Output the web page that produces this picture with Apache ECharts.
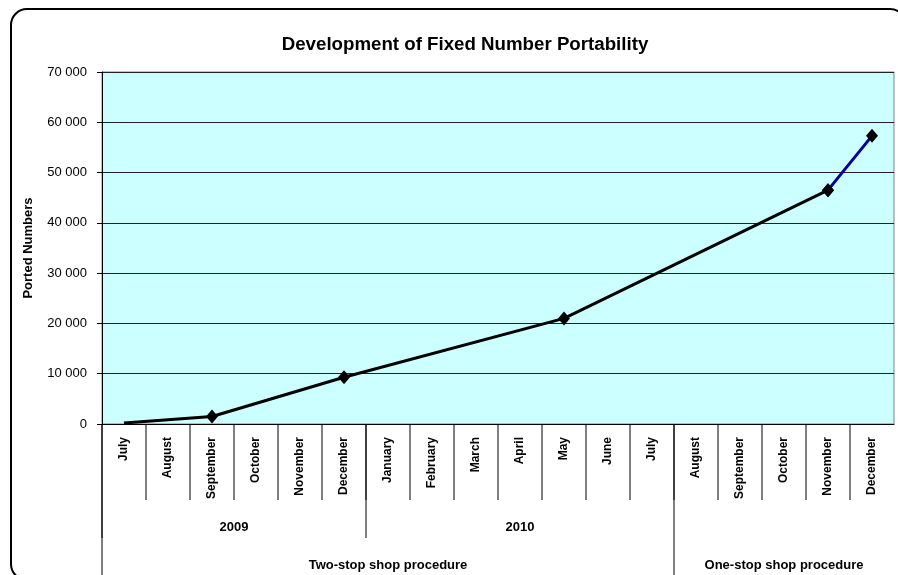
<!DOCTYPE html>
<html>
<head>
<meta charset="utf-8">
<script src="https://cdn.jsdelivr.net/npm/echarts@6/dist/echarts.min.js"></script>
<style>
  html, body { margin: 0; padding: 0; background: #fff; }
  #chart { width: 898px; height: 575px; }
</style>
</head>
<body>
<div id="chart"></div>
<script>
// Month categories, July 2009 – December 2010
const months = ['July', 'August', 'September', 'October', 'November', 'December',
  'January', 'February', 'March', 'April', 'May', 'June', 'July',
  'August', 'September', 'October', 'November', 'December'];

// Ported numbers (cumulative); null = no reading for that month
//                  Jul  Aug   Sep   Oct   Nov   Dec   Jan   Feb   Mar   Apr   May    Jun   Jul   Aug   Sep   Oct   Nov    Dec
const portedTwoStop = [200, null, 1500, null, null, 9300, null, null, null, null, 21000, null, null, null, null, null, 46500, null];
const portedOneStop = [null, null, null, null, null, null, null, null, null, null, null, null, null, null, null, null, 46500, 57300];

// Grouping rows under the month labels: [label, first month index, last month index]
const yearGroups = [['2009', 0, 5], ['2010', 6, 12]];
const procedureGroups = [['Two-stop shop procedure', 0, 12], ['One-stop shop procedure', 13, 17]];

const FONT = '"Liberation Sans", Arial, sans-serif';

// Rows for the custom series: level 0 = month separators, 1 = years, 2 = procedures
const groupRows = [];
for (let i = 1; i < months.length; i++) groupRows.push({ name: '', value: [i, i, 0] });
yearGroups.forEach(g => groupRows.push({ name: g[0], value: [g[1], g[2], 1] }));
procedureGroups.forEach(g => groupRows.push({ name: g[0], value: [g[1], g[2], 2] }));

const lineLen = [76, 114, 170];
const textOffset = [0, 103, 141];

function renderGroup(params, api) {
  const start = api.value(0), end = api.value(1), level = api.value(2);
  const band = api.size([1, 0])[0];
  const p0 = api.coord([start, 0]);
  const p1 = api.coord([end, 0]);
  const x0 = p0[0] - band / 2;
  const x1 = p1[0] + band / 2;
  const y0 = p0[1];
  const children = [{
    type: 'line',
    shape: { x1: x0, y1: y0, x2: x0, y2: y0 + lineLen[level] },
    style: { stroke: '#000', lineWidth: 1 }
  }];
  const label = groupRows[params.dataIndex].name;
  if (label) {
    children.push({
      type: 'text',
      style: {
        text: label, x: (x0 + x1) / 2, y: y0 + textOffset[level],
        align: 'center', verticalAlign: 'middle',
        font: 'bold 13px ' + FONT, fill: '#000'
      }
    });
  }
  return { type: 'group', children };
}

const chart = echarts.init(document.getElementById('chart'));
chart.setOption({
  animation: false,
  backgroundColor: '#fff',
  title: {
    text: 'Development of Fixed Number Portability',
    left: 460, top: 30, textAlign: 'center',
    textStyle: { fontFamily: FONT, fontWeight: 'bold', fontSize: 18.7, color: '#000' }
  },
  graphic: [{
    type: 'rect',
    shape: { x: 11, y: 9, width: 895, height: 571, r: 16 },
    style: { fill: 'none', stroke: '#000', lineWidth: 2 },
    z: 100
  }],
  grid: {
    left: 102, right: 4, top: 72, bottom: 151,
    show: true, backgroundColor: '#CCFFFF', borderColor: '#808080', borderWidth: 1
  },
  xAxis: {
    type: 'category',
    data: months,
    boundaryGap: true,
    axisLine: { lineStyle: { color: '#000', width: 1 } },
    axisTick: { show: false },
    axisLabel: {
      interval: 0, rotate: 90, margin: 13,
      fontFamily: FONT, fontWeight: 'bold', fontSize: 12, color: '#000'
    },
    splitLine: { show: false }
  },
  yAxis: {
    type: 'value',
    min: 0, max: 70000, interval: 10000,
    name: 'Ported Numbers',
    nameLocation: 'middle', nameGap: 67,
    nameTextStyle: { fontFamily: FONT, fontWeight: 'bold', fontSize: 13, color: '#000' },
    axisLine: { show: true, lineStyle: { color: '#000', width: 1 } },
    axisTick: { show: true, length: 5, lineStyle: { color: '#000' } },
    axisLabel: {
      margin: 15, fontFamily: FONT, fontSize: 13, color: '#000',
      formatter: v => String(v).replace(/\B(?=(\d{3})+(?!\d))/g, ' ')
    },
    splitLine: { show: true, lineStyle: { color: '#222', width: 1 } }
  },
  series: [
    {
      type: 'line',
      data: portedTwoStop.map((v, i) => i === 0 ? { value: v, symbol: 'none' } : v),
      connectNulls: true,
      symbol: 'diamond', symbolSize: [12, 14],
      lineStyle: { color: '#000', width: 3 },
      itemStyle: { color: '#000' },
      z: 3
    },
    {
      type: 'line',
      data: portedOneStop,
      connectNulls: true,
      symbol: 'diamond', symbolSize: [12, 14],
      lineStyle: { color: '#000099', width: 3 },
      itemStyle: { color: '#000' },
      z: 4
    },
    {
      type: 'custom',
      data: groupRows,
      encode: { x: 0, y: 2 },
      renderItem: renderGroup,
      clip: false,
      silent: true,
      z: 5
    }
  ]
});
</script>
</body>
</html>
